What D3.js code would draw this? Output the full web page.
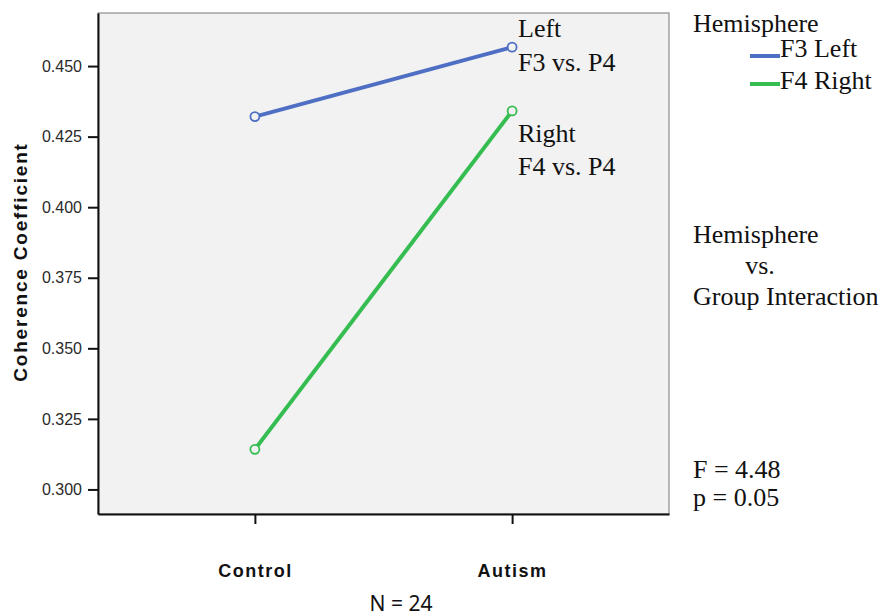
<!DOCTYPE html>
<html>
<head>
<meta charset="utf-8">
<script src="https://cdn.jsdelivr.net/npm/d3@7"></script>
<style>
  body { margin: 0; background: #fff; }
</style>
</head>
<body>
<div id="chart"></div>
<script>
// data
const groups = ["Control", "Autism"];
const hemiNames = ["F3 Left", "F4 Right"];
const leftVals = [0.4321, 0.4567];
const rightVals = [0.3142, 0.4341];
const yTicks = [0.300, 0.325, 0.350, 0.375, 0.400, 0.425, 0.450];
const colors = ["#4e6fc3", "#36bd52"];

const W = 885, H = 616;
const plot = { left: 98, right: 669, top: 13, bottom: 514 };

const svg = d3.select("#chart")
  .append("svg")
  .attr("width", W)
  .attr("height", H);

const x = d3.scalePoint()
  .domain(groups)
  .range([plot.left, plot.right])
  .padding(0.61);

const y = d3.scaleLinear()
  .domain([0.2913, 0.4688])
  .range([plot.bottom, plot.top]);

// plot background
svg.append("rect")
  .attr("x", plot.left)
  .attr("y", plot.top)
  .attr("width", plot.right - plot.left)
  .attr("height", plot.bottom - plot.top)
  .attr("fill", "#f2f2f2")
  .attr("stroke", "#777")
  .attr("stroke-width", 1);

// axes
const yAxis = svg.append("g")
  .attr("transform", `translate(${plot.left},0)`)
  .call(d3.axisLeft(y).tickValues(yTicks).tickFormat(d3.format(".3f")).tickSize(10).tickSizeOuter(0).tickPadding(6));
yAxis.select(".domain").attr("stroke", "#111").attr("stroke-width", 2);
yAxis.selectAll(".tick line").attr("stroke", "#111").attr("stroke-width", 2);
yAxis.selectAll(".tick text")
  .attr("font-family", "Arial, 'Liberation Sans', sans-serif")
  .attr("font-size", 16)
  .attr("fill", "#2a2a2a");

const xAxis = svg.append("g")
  .attr("transform", `translate(0,${plot.bottom})`)
  .call(d3.axisBottom(x).tickSize(10).tickSizeOuter(0).tickPadding(40));
xAxis.select(".domain").attr("stroke", "#111").attr("stroke-width", 2);
xAxis.selectAll(".tick line").attr("stroke", "#111").attr("stroke-width", 2);
xAxis.selectAll(".tick text")
  .attr("font-family", "Arial, 'Liberation Sans', sans-serif")
  .attr("font-size", 18)
  .attr("font-weight", "bold")
  .attr("letter-spacing", 1.5)
  .attr("fill", "#111");

// y title
svg.append("text")
  .attr("transform", `translate(27,262) rotate(-90)`)
  .attr("text-anchor", "middle")
  .attr("font-family", "Arial, 'Liberation Sans', sans-serif")
  .attr("font-size", 19)
  .attr("font-weight", "bold")
  .attr("letter-spacing", 1.8)
  .attr("fill", "#111")
  .text("Coherence Coefficient");

// lines
const series = [leftVals, rightVals];
const line = d3.line()
  .x((d, i) => x(groups[i]))
  .y(d => y(d));

series.forEach((vals, s) => {
  svg.append("path")
    .attr("d", line(vals))
    .attr("fill", "none")
    .attr("stroke", colors[s])
    .attr("stroke-width", 4);
  svg.selectAll(null)
    .data(vals)
    .enter()
    .append("circle")
    .attr("cx", (d, i) => x(groups[i]))
    .attr("cy", d => y(d))
    .attr("r", 4.5)
    .attr("fill", "#f2f2f2")
    .attr("stroke", colors[s])
    .attr("stroke-width", 1.8);
});

const serif = "'Times New Roman', 'Liberation Serif', serif";
function label(txt, tx, ty, anchor) {
  svg.append("text")
    .attr("x", tx)
    .attr("y", ty)
    .attr("text-anchor", anchor || "start")
    .attr("font-family", serif)
    .attr("font-size", 26)
    .attr("fill", "#111")
    .text(txt);
}

// in-plot annotations
label("Left", 518, 37);
label("F3 vs. P4", 518, 71);
label("Right", 518, 142);
label("F4 vs. P4", 518, 175);

// legend
label("Hemisphere", 693, 32);
hemiNames.forEach((n, i) => {
  const ly = [56, 84][i];
  svg.append("line")
    .attr("x1", 750).attr("x2", 780)
    .attr("y1", ly).attr("y2", ly)
    .attr("stroke", colors[i])
    .attr("stroke-width", 4);
  label(n, 780, [57, 89][i]);
});

// side notes
label("Hemisphere", 693, 243);
label("vs.", 760, 274, "middle");
label("Group Interaction", 693, 305);
label("F = 4.48", 693, 478);
label("p = 0.05", 693, 506);

// N
svg.append("text")
  .attr("x", 401)
  .attr("y", 611)
  .attr("text-anchor", "middle")
  .attr("font-family", "'Noto Sans', 'Open Sans', sans-serif")
  .attr("font-size", 21)
  .attr("fill", "#111")
  .text("N = 24");
</script>
</body>
</html>
